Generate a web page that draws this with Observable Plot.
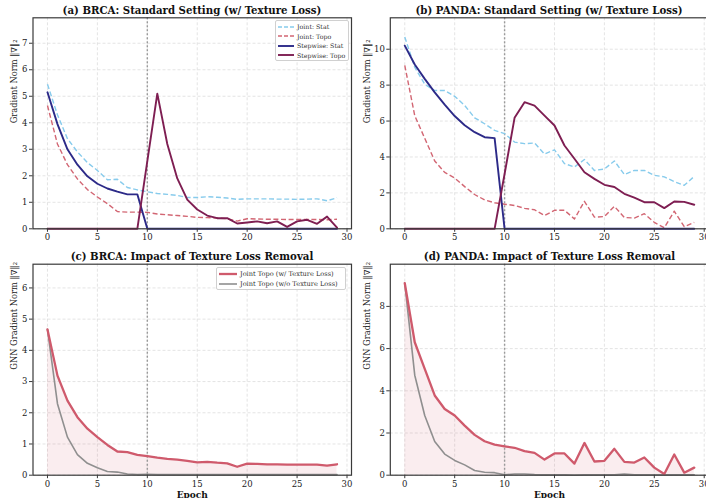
<!DOCTYPE html>
<html><head><meta charset="utf-8">
<script src="https://cdn.jsdelivr.net/npm/d3@7"></script>
<script src="https://cdn.jsdelivr.net/npm/@observablehq/plot@0.6"></script>
<style>
html,body{margin:0;padding:0;width:706px;height:498px;overflow:hidden;background:#fff;}
#root{position:relative;width:706px;height:498px;overflow:hidden;}
.panel{position:absolute;}
.panel svg{max-width:none;display:block;overflow:visible;}
.title{position:absolute;font-family:"DejaVu Serif";font-weight:bold;font-size:10.2px;color:#111;white-space:nowrap;transform:translate(-50%,-50%);}
.legend{position:absolute;background:#fff;border:1px solid #d0d0d0;border-radius:2px;font-family:"DejaVu Serif";color:#333;box-sizing:border-box;padding:1px 2px;}
.legend .row{display:flex;align-items:center;white-space:nowrap;}
.legend svg{display:block;margin-right:3px;}
</style></head><body>
<div id="root"></div>
<script>
// ---------- data ----------
const epochs = [0,1,2,3,4,5,6,7,8,9,10,11,12,13,14,15,16,17,18,19,20,21,22,23,24,25,26,27,28,29];
const xTicks = [0,5,10,15,20,25,30];
const switchEpoch = [10];

// (a) BRCA standard setting
const brcaJointStat = [5.45,4.3,3.4,2.9,2.5,2.2,1.85,1.87,1.56,1.47,1.4,1.33,1.3,1.26,1.18,1.18,1.21,1.19,1.16,1.11,1.13,1.13,1.13,1.12,1.12,1.11,1.12,1.13,1.06,1.17];
const brcaJointTopo = [4.65,3.2,2.42,1.88,1.48,1.2,0.95,0.65,0.63,0.63,0.62,0.56,0.53,0.5,0.47,0.43,0.42,0.41,0.38,0.29,0.38,0.37,0.36,0.36,0.35,0.35,0.35,0.35,0.34,0.36];
const brcaStepStat = [5.15,3.95,3.0,2.42,1.98,1.7,1.52,1.4,1.3,1.3,0,0,0,0,0,0,0,0,0,0,0,0,0,0,0,0,0,0,0,0];
const brcaStepTopo = [0,0,0,0,0,0,0,0,0,0,2.55,5.1,3.2,1.9,1.1,0.73,0.5,0.4,0.4,0.2,0.24,0.28,0.21,0.28,0.07,0.28,0.34,0.19,0.46,0.04];
const brcaYTicks = [0,1,2,3,4,5,6,7];

// (b) PANDA standard setting
const pandaJointStat = [10.68,9.0,8.05,7.7,7.7,7.38,6.87,6.18,5.85,5.48,5.3,4.83,4.74,4.78,4.16,4.4,3.63,3.44,3.86,3.25,3.33,3.78,3.02,3.25,3.25,2.98,2.89,2.63,2.42,2.92];
const pandaJointTopo = [9.1,6.3,5.04,3.78,3.14,2.83,2.35,1.91,1.61,1.45,1.37,1.3,1.14,1.06,0.74,1.03,1.03,0.55,1.53,0.65,0.68,1.25,0.63,0.6,0.84,0.36,0.06,0.98,0.12,0.36];
const pandaStepStat = [10.2,9.15,8.35,7.6,6.92,6.28,5.77,5.38,5.1,5.05,0,0,0,0,0,0,0,0,0,0,0,0,0,0,0,0,0,0,0,0];
const pandaStepTopo = [0,0,0,0,0,0,0,0,0,0,3.05,6.18,7.05,6.86,6.3,5.75,4.64,3.9,3.15,2.78,2.45,2.33,1.95,1.73,1.48,1.48,1.15,1.52,1.5,1.34];
const pandaYTicks = [0,2,4,6,8,10];

// (c) BRCA texture-loss removal
const brcaTopoWith = [4.67,3.19,2.39,1.86,1.49,1.22,0.97,0.76,0.74,0.65,0.61,0.56,0.52,0.5,0.46,0.41,0.43,0.4,0.38,0.27,0.37,0.36,0.35,0.35,0.34,0.34,0.34,0.34,0.31,0.35];
const brcaTopoWithout = [4.67,2.29,1.22,0.66,0.38,0.24,0.12,0.1,0.04,0.02,0.03,0.02,0.02,0.02,0.02,0.02,0.02,0.02,0.02,0.02,0.02,0.02,0.02,0.02,0.02,0.02,0.02,0.02,0.02,0.02];
const brcaRemYTicks = [0,1,2,3,4,5,6];

// (d) PANDA texture-loss removal
const pandaTopoWith = pandaJointTopo;
const pandaTopoWithout = [9.1,4.74,2.83,1.6,1.0,0.7,0.49,0.22,0.14,0.12,0.02,0.06,0.06,0.03,0.02,0.02,0.02,0.01,0.02,0.02,0.02,0.02,0.05,0.02,0.02,0.02,0.02,0.02,0.02,0.02];
const pandaRemYTicks = [0,2,4,6,8];

const titles = [
  "(a) BRCA: Standard Setting (w/ Texture Loss)",
  "(b) PANDA: Standard Setting (w/ Texture Loss)",
  "(c) BRCA: Impact of Texture Loss Removal",
  "(d) PANDA: Impact of Texture Loss Removal"
];
const yLabelStd = "Gradient Norm \u2016\u2207\u2016\u2082";
const yLabelGnn = "GNN Gradient Norm \u2016\u2207\u2016\u2082";
const xLabel = "Epoch";
const legendStd = ["Joint: Stat","Joint: Topo","Stepwise: Stat","Stepwise: Topo"];
const legendRem = ["Joint Topo (w/ Texture Loss)","Joint Topo (w/o Texture Loss)"];

// ---------- styles ----------
const C = {
  jointStat: "#87cbec",
  jointTopo: "#d26673",
  stepStat: "#2c2a88",
  stepTopo: "#7e1e52",
  topoWith: "#cf5a6c",
  topoWithout: "#8f8f8f"
};

const root = document.getElementById("root");

function panel(cfg) {
  const marks = [
    Plot.gridX(xTicks, {stroke: "#d8d8d8", strokeOpacity: 1, strokeDasharray: "3,2", strokeWidth: 0.7}),
    Plot.gridY(cfg.yTicks, {stroke: "#d8d8d8", strokeOpacity: 1, strokeDasharray: "3,2", strokeWidth: 0.7}),
  ];
  if (cfg.area) {
    marks.push(Plot.areaY(epochs, {x: d => d, y: (d, i) => cfg.area[i], fill: C.topoWith, fillOpacity: 0.11, curve: "linear"}));
  }
  marks.push(Plot.ruleX(switchEpoch, {stroke: "#9a9a9a", strokeDasharray: "2,2", strokeWidth: 1.4}));
  for (const s of cfg.series) {
    marks.push(Plot.line(epochs, {x: d => d, y: (d, i) => s.values[i], stroke: s.color, strokeWidth: s.width, strokeDasharray: s.dash, strokeLinejoin: "round", strokeLinecap: s.dash ? "butt" : "round"}));
  }
  marks.push(Plot.frame({stroke: "#3a3a3a", strokeWidth: 1.2}));
  marks.push(Plot.axisX(xTicks, {tickSize: 3.5, tickPadding: 2, label: null, stroke: "#3a3a3a", fill: "#222"}));
  marks.push(Plot.axisY(cfg.yTicks, {tickSize: 3.5, tickPadding: 2, label: null, stroke: "#3a3a3a", fill: "#222"}));
  marks.push(Plot.text([cfg.ylabel], {frameAnchor: "left", rotate: -90, dx: cfg.ylabelDx, fontSize: 8.3, fill: "#222", lineAnchor: "middle", text: d => d}));
  if (cfg.xlabel) marks.push(Plot.text([cfg.xlabel], {frameAnchor: "bottom", dy: 20, fontSize: 9, fontWeight: "bold", fill: "#111", lineAnchor: "middle", text: d => d}));

  const svg = Plot.plot({
    width: cfg.width, height: 249,
    marginLeft: cfg.ml, marginRight: cfg.mr, marginTop: cfg.mt, marginBottom: cfg.mb,
    x: {domain: [-1.45, 30.45], axis: null},
    y: {domain: cfg.ydom, axis: null},
    style: {fontFamily: "DejaVu Serif", fontSize: "8.5px", color: "#222", background: "transparent", overflow: "visible"},
    marks
  });
  const div = document.createElement("div");
  div.className = "panel";
  div.style.left = cfg.left + "px";
  div.style.top = cfg.top + "px";
  div.appendChild(svg);
  root.appendChild(div);

  const t = document.createElement("div");
  t.className = "title";
  t.textContent = cfg.title;
  t.style.left = cfg.titleX + "px";
  t.style.top = cfg.titleY + "px";
  root.appendChild(t);
}

function legend(items, opts) {
  const box = document.createElement("div");
  box.className = "legend";
  Object.assign(box.style, {left: opts.left + "px", top: opts.top + "px", width: opts.width + "px", height: opts.height + "px", fontSize: opts.fontSize + "px", paddingTop: opts.padTop + "px"});
  items.forEach(it => {
    const row = document.createElement("div");
    row.className = "row";
    row.style.height = opts.rowH + "px";
    const ns = "http://www.w3.org/2000/svg";
    const s = document.createElementNS(ns, "svg");
    s.setAttribute("width", opts.sw); s.setAttribute("height", 6);
    const l = document.createElementNS(ns, "line");
    l.setAttribute("x1", 0); l.setAttribute("x2", opts.sw); l.setAttribute("y1", 3); l.setAttribute("y2", 3);
    l.setAttribute("stroke", it.color); l.setAttribute("stroke-width", it.width);
    if (it.dash) l.setAttribute("stroke-dasharray", it.dash);
    s.appendChild(l);
    row.appendChild(s);
    const sp = document.createElement("span");
    sp.textContent = it.label;
    row.appendChild(sp);
    box.appendChild(row);
  });
  root.appendChild(box);
}

const stdSeries = (js, jt, ss, st) => [
  {values: js, color: C.jointStat, width: 1.4, dash: "5,2.6"},
  {values: jt, color: C.jointTopo, width: 1.4, dash: "5,2.6"},
  {values: ss, color: C.stepStat, width: 1.9},
  {values: st, color: C.stepTopo, width: 1.9}
];

panel({left: 0, top: 0, width: 353, ml: 32.5, mr: 2, mt: 17.3, mb: 20.7, ydom: [0, 7.96], yTicks: brcaYTicks,
  ylabel: yLabelStd, ylabelDx: -18.5, title: titles[0], titleX: 192, titleY: 10,
  series: stdSeries(brcaJointStat, brcaJointTopo, brcaStepStat, brcaStepTopo)});
panel({left: 353, top: 0, width: 360, ml: 36.8, mr: 4.8, mt: 17.3, mb: 20.7, ydom: [0, 11.75], yTicks: pandaYTicks,
  ylabel: yLabelStd, ylabelDx: -22.8, title: titles[1], titleX: 549, titleY: 10,
  series: stdSeries(pandaJointStat, pandaJointTopo, pandaStepStat, pandaStepTopo)});
panel({left: 0, top: 249, width: 353, ml: 32.5, mr: 2, mt: 14.7, mb: 23.3, ydom: [0, 6.76], yTicks: brcaRemYTicks,
  ylabel: yLabelGnn, ylabelDx: -18.5, xlabel: xLabel, title: titles[2], titleX: 192, titleY: 255.7, area: brcaTopoWith,
  series: [{values: brcaTopoWithout, color: C.topoWithout, width: 1.6}, {values: brcaTopoWith, color: C.topoWith, width: 2.3}]});
panel({left: 353, top: 249, width: 360, ml: 36.8, mr: 4.8, mt: 14.7, mb: 23.3, ydom: [0, 10.0], yTicks: pandaRemYTicks,
  ylabel: yLabelGnn, ylabelDx: -22.8, xlabel: xLabel, title: titles[3], titleX: 549.5, titleY: 255.7, area: pandaTopoWith,
  series: [{values: pandaTopoWithout, color: C.topoWithout, width: 1.6}, {values: pandaTopoWith, color: C.topoWith, width: 2.3}]});

legend([
  {label: legendStd[0], color: C.jointStat, width: 1.4, dash: "4,2"},
  {label: legendStd[1], color: C.jointTopo, width: 1.4, dash: "4,2"},
  {label: legendStd[2], color: C.stepStat, width: 1.9},
  {label: legendStd[3], color: C.stepTopo, width: 1.9}
], {left: 275, top: 20, width: 74, height: 41, fontSize: 6.3, rowH: 9.5, sw: 16, padTop: 1});

legend([
  {label: legendRem[0], color: C.topoWith, width: 2.3},
  {label: legendRem[1], color: C.topoWithout, width: 1.6}
], {left: 216, top: 266.5, width: 130, height: 23.5, fontSize: 6.6, rowH: 10, sw: 18, padTop: 1});
</script>
</body></html>
